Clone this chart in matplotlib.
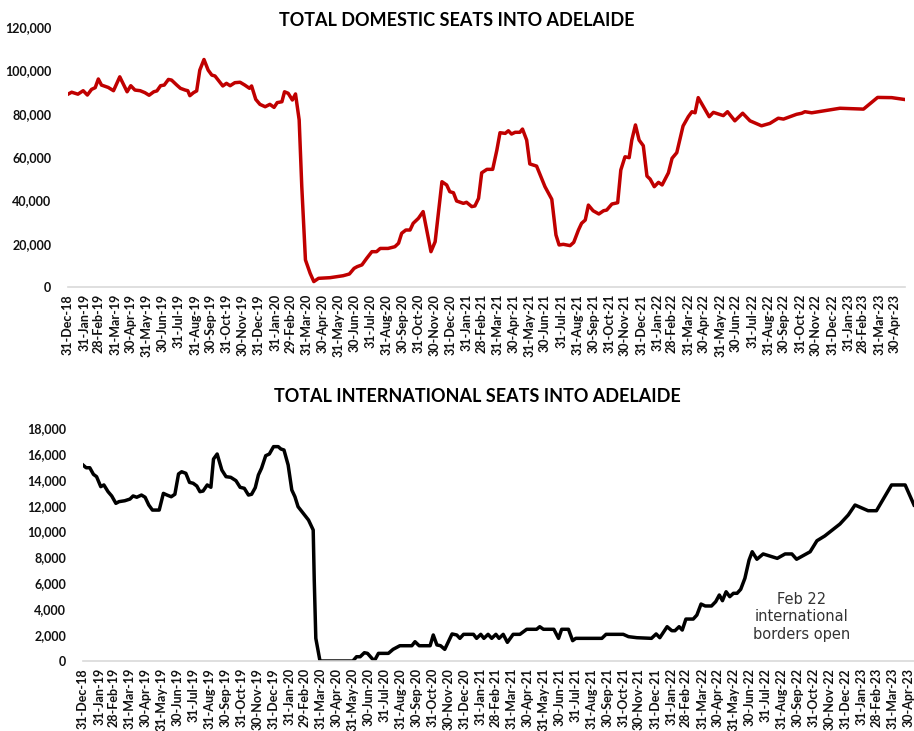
import numpy as np
import pandas as pd
import matplotlib.pyplot as plt
import matplotlib.dates as mdates
from matplotlib.ticker import FuncFormatter

start = pd.Timestamp('2018-12-31')

# domestic seats: days after 31-Dec-18, seats
dom_days = [0, 7, 19, 29, 37, 45, 52, 58, 64, 77, 87, 99, 113, 120, 128, 138, 147, 155, 164, 170,
            177, 184, 192, 198, 208, 215, 224, 229, 233, 240, 246, 252, 260, 268, 275, 281, 296, 303,
            310, 319, 329, 338, 347, 351, 359, 367, 377, 386, 394, 400, 409, 414, 421, 429, 435, 442,
            447, 454, 463, 470, 479, 501, 526, 538, 547, 553, 562, 571, 581, 590, 597, 612, 625, 632,
            638, 646, 654, 660, 670, 679, 694, 702, 715, 724, 730, 737, 743, 756, 762, 772, 778, 785,
            791, 801, 812, 820, 826, 836, 842, 848, 855, 864, 869, 877, 883, 896, 912, 925, 933, 939,
            947, 960, 967, 976, 982, 989, 995, 1004, 1015, 1024, 1030, 1040, 1051, 1057, 1065, 1073,
            1078, 1085, 1092, 1100, 1107, 1113, 1121, 1129, 1136, 1148, 1155, 1164, 1176, 1186, 1193,
            1199, 1205, 1215, 1226, 1234, 1253, 1261, 1275, 1290, 1304, 1326, 1342, 1358, 1368, 1393,
            1403, 1409, 1422, 1476, 1521, 1548, 1575, 1598]
dom_seats = [89000, 89900, 89000, 90600, 88600, 91200, 92000, 96000, 93200, 92100, 90600, 97000,
             90100, 92900, 90900, 90600, 89700, 88500, 90100, 90500, 92900, 93200, 95800, 95500,
             93200, 91700, 90900, 90600, 88300, 89700, 90500, 100100, 105000, 100100, 97800, 97400,
             92800, 94000, 92900, 94300, 94500, 93200, 91700, 92800, 86600, 84300, 83200, 84300,
             82900, 85100, 85500, 90100, 89400, 86300, 89100, 77100, 46300, 12500, 6300, 2500, 4000,
             4300, 5200, 6000, 8600, 9400, 10200, 13200, 16300, 16300, 17800, 17800, 18600, 20200,
             24800, 26300, 26300, 29400, 31700, 34800, 16300, 20900, 48600, 47100, 44000, 43500,
             39700, 38600, 39100, 37100, 37400, 40900, 52700, 54300, 54300, 63200, 71200, 70900,
             72100, 70600, 71400, 71400, 72900, 67800, 56800, 55800, 46300, 40500, 24000, 19400,
             19700, 19100, 20600, 26300, 29400, 30900, 37800, 35200, 33700, 35200, 35500, 38300,
             38900, 54000, 60100, 59700, 67800, 74800, 67800, 65200, 51200, 49800, 46300, 48300,
             47100, 52700, 59400, 62000, 74300, 78600, 80900, 80400, 87400, 83200, 78600, 80600,
             79100, 80900, 76700, 80200, 76700, 74400, 75500, 77900, 77500, 79700, 80200, 80900,
             80400, 82500, 82100, 87500, 87400, 86600]

# international seats
int_days = [0, 6, 13, 20, 26, 34, 40, 48, 55, 63, 69, 80, 90, 96, 103, 112, 119, 126, 133, 146,
            154, 161, 169, 176, 183, 189, 197, 204, 211, 218, 224, 230, 238, 245, 250, 257, 266, 274,
            283, 293, 301, 309, 317, 323, 330, 336, 342, 350, 357, 365, 374, 379, 385, 393, 400, 406,
            412, 422, 432, 441, 443, 446, 454, 517, 524, 531, 539, 545, 558, 566, 585, 594, 607, 630,
            636, 644, 665, 671, 678, 685, 693, 707, 716, 722, 729, 748, 754, 762, 768, 776, 783, 791,
            797, 805, 813, 824, 837, 850, 869, 875, 882, 902, 911, 917, 930, 938, 944, 994, 1002,
            1035, 1045, 1061, 1089, 1098, 1105, 1119, 1128, 1134, 1142, 1148, 1155, 1169, 1176, 1184,
            1192, 1204, 1212, 1219, 1225, 1232, 1239, 1246, 1253, 1260, 1268, 1276, 1282, 1291, 1303,
            1330, 1345, 1358, 1367, 1393, 1406, 1421, 1450, 1466, 1479, 1504, 1520, 1549, 1575, 1592]
int_seats = [15140, 14930, 14930, 14420, 14240, 13470, 13600, 13080, 12750, 12180, 12310, 12380,
             12510, 12750, 12650, 12820, 12650, 12050, 11660, 11660, 12950, 12820, 12690, 12880,
             14450, 14620, 14500, 13800, 13730, 13520, 13080, 13130, 13600, 13420, 15600, 15990,
             14750, 14240, 14190, 13930, 13420, 13340, 12820, 12880, 13390, 14370, 14890, 15860,
             15990, 16560, 16560, 16380, 16300, 15140, 13210, 12690, 11920, 11410, 10890, 10120,
             6260, 1750, 0, 0, 330, 330, 640, 590, 0, 590, 590, 900, 1180, 1180, 1490, 1180, 1180,
             2010, 1240, 1180, 900, 2090, 2010, 1750, 2060, 2060, 1750, 2060, 1750, 2060, 1750, 2060,
             1750, 2060, 1440, 2060, 2060, 2450, 2450, 2650, 2450, 2450, 1750, 2450, 2450, 1570, 1750,
             1750, 2060, 2060, 1880, 1800, 1750, 2090, 1800, 2650, 2340, 2340, 2650, 2390, 3240, 3240,
             3550, 4400, 4250, 4250, 4580, 5100, 4660, 5350, 4970, 5230, 5230, 5540, 6390, 7800, 8440,
             7860, 8270, 7930, 8270, 8270, 7860, 8440, 9290, 9660, 10580, 11280, 12050, 11610, 11610,
             13600, 13600, 12050]

tick_dates = pd.date_range('2018-12-31', '2023-04-30', freq='ME')
end_date = start + pd.Timedelta(days=1600)

dom_x = start + pd.to_timedelta(dom_days, unit='D')
int_x = start + pd.to_timedelta(int_days, unit='D')

font = ['Lato', 'DejaVu Sans']
plt.rcParams['font.family'] = font

fig = plt.figure(figsize=(9.14, 7.31), dpi=100)
W, H = 914, 731


def style_axis(ax, ymax, ystep):
    ax.set_xlim(start, end_date)
    ax.set_ylim(0, ymax)
    ax.set_yticks(np.arange(0, ymax + 1, ystep))
    ax.yaxis.set_major_formatter(FuncFormatter(lambda v, p: f'{int(v):,}'))
    ax.set_xticks(tick_dates)
    ax.xaxis.set_major_formatter(mdates.DateFormatter('%d-%b-%y'))
    for s in ['top', 'right', 'left']:
        ax.spines[s].set_visible(False)
    ax.spines['bottom'].set_color('#d9d9d9')
    ax.spines['bottom'].set_linewidth(1.2)
    ax.tick_params(length=0, labelsize=9, colors='#111111')
    ax.tick_params(axis='x', rotation=90, pad=5)
    ax.tick_params(axis='y', pad=12)
    for lab in ax.get_xticklabels() + ax.get_yticklabels():
        lab.set_fontweight('bold')


ax1 = fig.add_axes([68 / W, 1 - 287 / H, 1600 * 0.523 / W, 260 / H])
ax1.plot(dom_x, dom_seats, color='#c00000', lw=2.5)
style_axis(ax1, 120000, 20000)
fig.text(457 / W, 1 - 20 / H, 'TOTAL DOMESTIC SEATS INTO ADELAIDE', ha='center', va='center',
         fontsize=13, fontweight='bold')

ax2 = fig.add_axes([83 / W, 1 - 661 / H, 1600 * 0.522 / W, 233 / H])
ax2.plot(int_x, int_seats, color='black', lw=2.5)
style_axis(ax2, 18000, 2000)
fig.text(477 / W, 1 - 397 / H, 'TOTAL INTERNATIONAL SEATS INTO ADELAIDE', ha='center', va='center',
         fontsize=13, fontweight='bold')

ax2.text(pd.Timestamp('2022-10-08'), 3400, 'Feb 22\ninternational\nborders open', ha='center',
         va='center', fontsize=10.5, color='#333333', family=['DejaVu Sans'], linespacing=1.2)

fig.savefig('out.png', dpi=100)
